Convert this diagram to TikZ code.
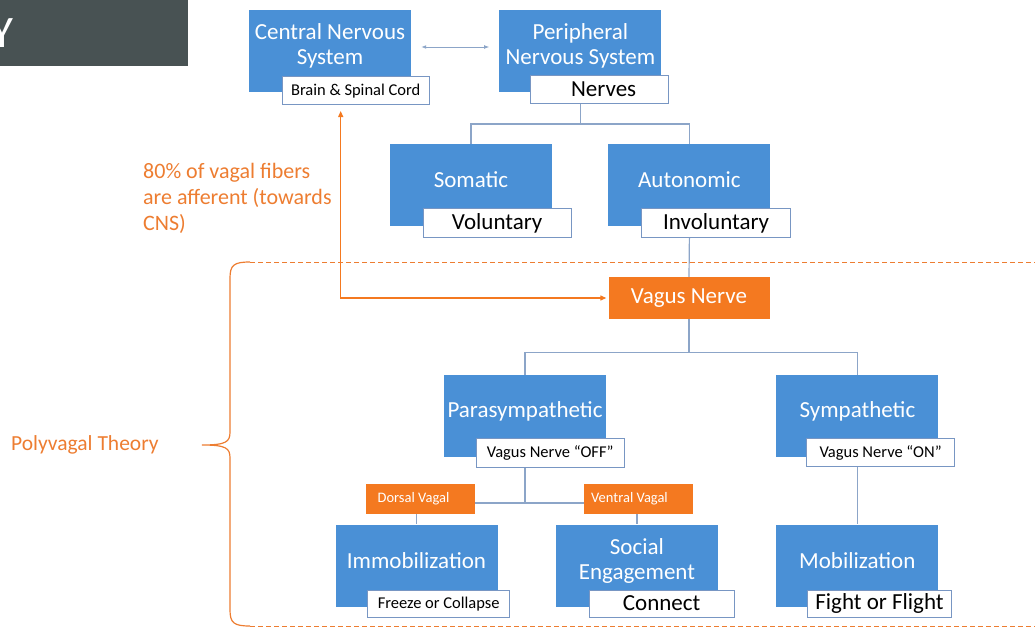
\documentclass[tikz,border=0pt]{standalone}
\usepackage{fontspec}
\setmainfont{Carlito}
\usepackage{xcolor}
\usetikzlibrary{positioning,arrows.meta,calc}
\definecolor{NodeBlue}{RGB}{74,144,214}
\definecolor{VagusOrange}{RGB}{244,121,32}
\definecolor{NoteOrange}{RGB}{237,125,49}
\definecolor{LinkGrey}{RGB}{140,165,200}
\definecolor{TagEdge}{RGB}{120,150,195}
\definecolor{Slate}{RGB}{72,82,83}
\tikzset{
  bluebox/.style={fill=NodeBlue, minimum width=162pt, minimum height=82pt, inner sep=0pt},
  boxtitle/.style={text=white, align=center, font=\fontsize{23}{25}\selectfont, yshift=5pt},
  tagbox/.style={draw=TagEdge, line width=0.8pt, fill=white, minimum height=28pt, inner sep=0pt, anchor=north west},
  smalltag/.style={tagbox, font=\fontsize{16.5}{19}\selectfont},
  bigtag/.style={tagbox, font=\fontsize{23}{25}\selectfont},
  orangebox/.style={fill=VagusOrange, text=white, inner sep=0pt},
  vagalbox/.style={orangebox, minimum width=109pt, minimum height=30pt, font=\fontsize{14.5}{17}\selectfont},
  link/.style={draw=LinkGrey, line width=1.2pt},
  note/.style={text=NoteOrange, font=\fontsize{22}{26}\selectfont, align=left, inner sep=0pt},
}

\begin{document}
\begin{tikzpicture}[x=1pt, y=-1pt]
  \useasboundingbox (0,0) rectangle (1035,629);
  % cut-off title bar
  \fill[Slate] (0,0) rectangle (188,66);
  \node[text=white, font=\fontsize{45}{45}\selectfont, inner sep=0pt, anchor=base west] (ttl) at (-9,47) {Y};

  % nervous system
  \node[bluebox, label={[boxtitle]center:Central Nervous\\System}] (cns) at (330,51) {};
  \node[bluebox, right=88pt of cns, label={[boxtitle]center:Peripheral\\Nervous System}] (pns) {};
  \node[smalltag, minimum width=147pt] (cord) at ($(cns.south west)+(33,-16)$) {Brain \& Spinal Cord};
  \node[bigtag, minimum width=138pt] (nerves) at ($(pns.south west)+(31,-17)$) {\hspace*{8pt}Nerves};

  \node[bluebox, label={[boxtitle]center:Somatic}] (somatic) at (471,185) {};
  \node[bluebox, right=56pt of somatic, label={[boxtitle]center:Autonomic}] (autonomic) {};
  \node[bigtag, minimum width=148pt, minimum height=29pt] (vol) at ($(somatic.south west)+(33,-18)$) {Voluntary};
  \node[bigtag, minimum width=149pt, minimum height=29pt] (invol) at ($(autonomic.south west)+(33,-18)$) {Involuntary};

  \node[orangebox, minimum width=161pt, minimum height=42pt, font=\fontsize{23}{25}\selectfont] (vagus) at (689,298) {Vagus Nerve};

  % polyvagal part
  \node[bluebox, label={[boxtitle]center:Parasympathetic}] (para) at (525,416) {};
  \node[bluebox, right=170pt of para, label={[boxtitle]center:Sympathetic}] (sym) {};
  \node[smalltag, minimum width=148pt, minimum height=29pt] (off) at ($(para.south west)+(32,-19)$) {Vagus Nerve “OFF”};
  \node[smalltag, minimum width=148pt] (on) at ($(sym.south west)+(30,-19)$) {Vagus Nerve “ON”};

  \node[vagalbox] (dorsal) at (420.5,499) {Dorsal Vagal\hspace*{14pt}};
  \node[vagalbox] (ventral) at (638.5,499) {Ventral Vagal\hspace*{18pt}};

  \node[bluebox, label={[boxtitle]center:Immobilization}] (immob) at (416.5,565.5) {};
  \node[bluebox, right=58pt of immob, label={[boxtitle]center:Social\\Engagement}] (social) {};
  \node[bluebox, right=58pt of social, label={[boxtitle]center:Mobilization}] (mob) {};
  \node[smalltag, minimum width=142pt, minimum height=27pt] (freeze) at ($(immob.south west)+(32,-17)$) {Freeze or Collapse};
  \node[bigtag, minimum width=145pt, minimum height=27pt] (connect) at ($(social.south west)+(33,-17)$) {Connect};
  \node[bigtag, minimum width=144pt, minimum height=27pt] (fight) at ($(mob.south west)+(31,-17)$) {Fight or Flight};

  % connectors
  \draw[draw=LinkGrey, line width=0.8pt, {Latex[length=5pt]}-{Latex[length=5pt]}] ([xshift=10pt,yshift=4pt]cns.east) -- ([xshift=-10pt,yshift=4pt]pns.west);
  \draw[link] (pns.south |- nerves.south) -- ++(0,20) -| (somatic.north);
  \draw[link] (pns.south |- nerves.south) -- ++(0,20) -| (autonomic.north);
  \draw[link] (autonomic.south |- invol.south) -- (vagus.north);
  \draw[link] (vagus.south) -- ++(0,33) -| (para.north);
  \draw[link] (vagus.south) -- ++(0,33) -| (sym.north);
  \coordinate (split) at (525,503);
  \draw[link] (para.south |- off.south) -- (split);
  \draw[link] (dorsal.east |- split) -- (ventral.west |- split);
  \draw[link] (dorsal.south -| immob.north) -- (immob.north);
  \draw[link] (ventral.south -| social.north) -- (social.north);
  \draw[link] (mob.north |- on.south) -- (mob.north);

  % afferent fibres
  \draw[VagusOrange, line width=1.2pt, {Triangle[length=6pt,width=5pt]}-{Triangle[length=6pt,width=5pt]}] ([xshift=-15pt,yshift=-6pt]cord.south) |- ([xshift=-2pt]vagus.west);
  \node[note, anchor=north west] (afferent) at (143,163) {80\% of vagal fibers\\are afferent (towards\\CNS)};

  % polyvagal bracket
  \draw[NoteOrange, line width=1pt, dash pattern=on 5pt off 3pt] (250,262) -- (1035,262);
  \draw[NoteOrange, line width=1pt, dash pattern=on 5pt off 3pt] (250,626) -- (1035,626);
  \draw[NoteOrange, line width=1.2pt] (250,262) .. controls (234,262) and (230,265) .. (230,278) -- (230,432)
    .. controls (230,442) and (226,445) .. (202,445)
    .. controls (226,445) and (230,448) .. (230,458) -- (230,610)
    .. controls (230,623) and (234,626) .. (250,626);
  \node[note, font=\fontsize{21.5}{26}\selectfont, anchor=west] (poly) at (11,445) {Polyvagal Theory};
\end{tikzpicture}
\end{document}
